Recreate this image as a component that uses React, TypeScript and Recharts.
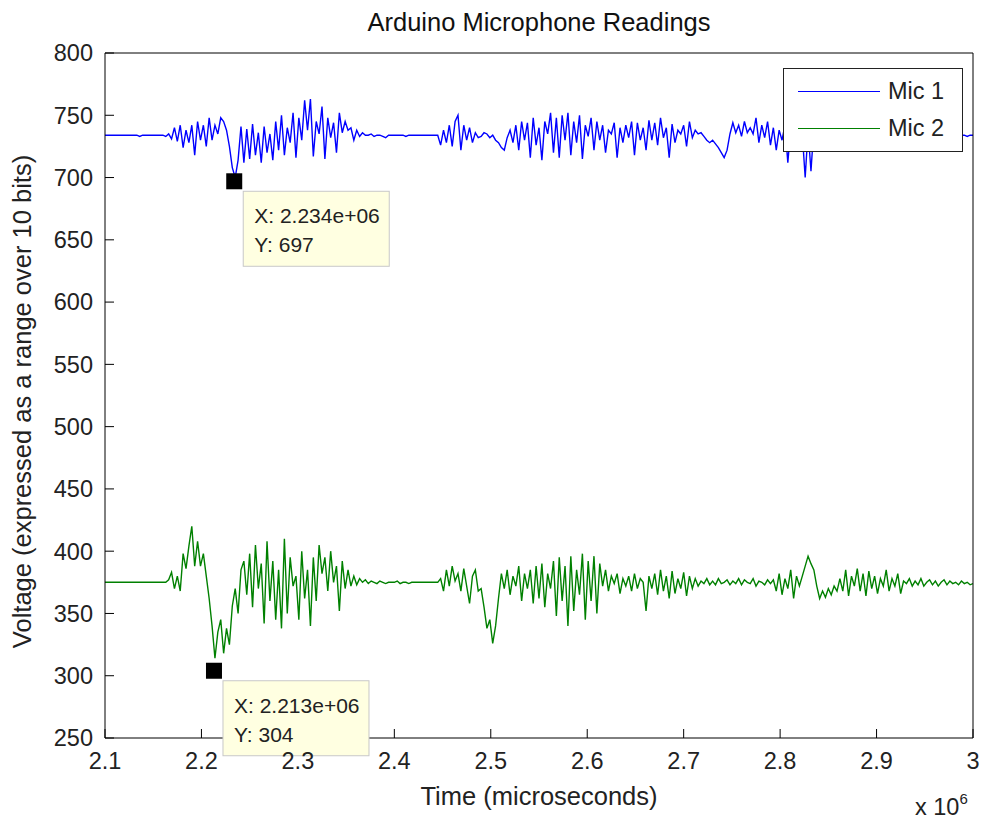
import { LineChart, Line, XAxis, YAxis, Legend, ReferenceDot, Label } from "recharts";

const FONT = '"Liberation Sans", Arial, Helvetica, sans-serif';

// sample times in milliseconds (x 1000 = microseconds)
const sampleTimeMs = [
  2100, 2103, 2106, 2109, 2112, 2115, 2118, 2121, 2124, 2127,
  2130, 2133, 2136, 2139, 2142, 2145, 2148, 2151, 2154, 2157,
  2160, 2163, 2166, 2169, 2172, 2175, 2178, 2181, 2184, 2187,
  2190, 2193, 2196, 2199, 2202, 2205, 2208, 2211, 2214, 2217,
  2220, 2223, 2226, 2229, 2232, 2235, 2238, 2241, 2244, 2247,
  2250, 2253, 2256, 2259, 2262, 2265, 2268, 2271, 2274, 2277,
  2280, 2283, 2286, 2289, 2292, 2295, 2298, 2301, 2304, 2307,
  2310, 2313, 2316, 2319, 2322, 2325, 2328, 2331, 2334, 2337,
  2340, 2343, 2346, 2349, 2352, 2355, 2358, 2361, 2364, 2367,
  2370, 2373, 2376, 2379, 2382, 2385, 2388, 2391, 2394, 2397,
  2400, 2403, 2406, 2409, 2412, 2415, 2418, 2421, 2424, 2427,
  2430, 2433, 2436, 2439, 2442, 2445, 2448, 2451, 2454, 2457,
  2460, 2463, 2466, 2469, 2472, 2475, 2478, 2481, 2484, 2487,
  2490, 2493, 2496, 2499, 2502, 2505, 2508, 2511, 2514, 2517,
  2520, 2523, 2526, 2529, 2532, 2535, 2538, 2541, 2544, 2547,
  2550, 2553, 2556, 2559, 2562, 2565, 2568, 2571, 2574, 2577,
  2580, 2583, 2586, 2589, 2592, 2595, 2598, 2601, 2604, 2607,
  2610, 2613, 2616, 2619, 2622, 2625, 2628, 2631, 2634, 2637,
  2640, 2643, 2646, 2649, 2652, 2655, 2658, 2661, 2664, 2667,
  2670, 2673, 2676, 2679, 2682, 2685, 2688, 2691, 2694, 2697,
  2700, 2703, 2706, 2709, 2712, 2715, 2718, 2721, 2724, 2727,
  2730, 2733, 2736, 2739, 2742, 2745, 2748, 2751, 2754, 2757,
  2760, 2763, 2766, 2769, 2772, 2775, 2778, 2781, 2784, 2787,
  2790, 2793, 2796, 2799, 2802, 2805, 2808, 2811, 2814, 2817,
  2820, 2823, 2826, 2829, 2832, 2835, 2838, 2841, 2844, 2847,
  2850, 2853, 2856, 2859, 2862, 2865, 2868, 2871, 2874, 2877,
  2880, 2883, 2886, 2889, 2892, 2895, 2898, 2901, 2904, 2907,
  2910, 2913, 2916, 2919, 2922, 2925, 2928, 2931, 2934, 2937,
  2940, 2943, 2946, 2949, 2952, 2955, 2958, 2961, 2964, 2967,
  2970, 2973, 2976, 2979, 2982, 2985, 2988, 2991, 2994, 2997,
  3000,
];

const mic1 = [
  734, 734, 734, 734, 734, 734, 734, 734, 734, 734,
  734, 734, 733, 734, 734, 734, 734, 734, 734, 734,
  734, 733, 735, 731, 740, 729, 742, 724, 738, 728,
  742, 718, 745, 730, 742, 725, 748, 730, 742, 735,
  748, 745, 738, 725, 708, 700, 714, 741, 712, 739,
  715, 743, 718, 736, 712, 741, 720, 735, 714, 745,
  722, 750, 718, 740, 728, 752, 716, 748, 730, 762,
  738, 763, 717, 745, 735, 757, 715, 748, 732, 744,
  720, 752, 736, 745, 738, 740, 730, 738, 733, 736,
  734, 734, 735, 733, 734, 734, 733, 732, 734, 734,
  734, 734, 734, 734, 733, 734, 734, 734, 734, 734,
  734, 734, 734, 734, 734, 734, 726, 738, 728, 742,
  725, 745, 750, 722, 742, 730, 740, 728, 736, 732,
  733, 736, 735, 732, 734, 730, 728, 724, 722, 732,
  738, 728, 742, 722, 745, 730, 744, 716, 748, 726,
  740, 714, 745, 735, 752, 720, 748, 716, 750, 730,
  752, 718, 745, 728, 750, 715, 742, 733, 748, 722,
  745, 730, 742, 720, 738, 735, 744, 716, 740, 728,
  742, 732, 745, 718, 744, 730, 740, 722, 746, 730,
  744, 726, 748, 732, 740, 716, 743, 728, 738, 735,
  742, 725, 745, 732, 738, 735, 736, 733, 730, 728,
  730, 727, 724, 720, 716, 722, 735, 744, 736, 742,
  733, 745, 736, 740, 735, 748, 728, 742, 732, 745,
  726, 740, 722, 738, 730, 742, 712, 740, 726, 738,
  730, 735, 700, 738, 705, 740, 728, 742, 732, 738,
  740, 728, 742, 732, 736, 745, 730, 738, 734, 740,
  728, 742, 735, 738, 730, 745, 733, 736, 730, 740,
  734, 738, 732, 742, 730, 736, 734, 738, 732, 736,
  735, 732, 738, 734, 736, 733, 735, 734, 736, 733,
  734, 735, 733, 734, 730, 733, 734, 734, 733, 734,
  734,
];

const mic2 = [
  375, 375, 375, 375, 375, 375, 375, 375, 375, 375,
  375, 375, 375, 375, 375, 375, 375, 375, 375, 375,
  375, 375, 377, 383, 370, 380, 368, 398, 386, 404,
  420, 388, 408, 388, 398, 380, 362, 340, 314, 335,
  345, 318, 338, 325, 356, 370, 350, 385, 392, 365,
  398, 355, 405, 370, 390, 342, 408, 360, 392, 345,
  385, 338, 410, 350, 395, 372, 380, 345, 400, 362,
  385, 340, 395, 360, 405, 382, 395, 368, 400, 375,
  388, 352, 392, 370, 385, 372, 380, 373, 378, 375,
  377, 374, 376, 375, 374, 376, 375, 374, 375, 375,
  375, 376, 374, 375, 375, 374, 375, 375, 375, 375,
  375, 375, 375, 375, 375, 375, 378, 368, 385, 372,
  388, 376, 382, 368, 386, 372, 358, 380, 385, 368,
  370, 355, 338, 345, 326, 340, 362, 382, 370, 385,
  365, 380, 372, 388, 360, 382, 370, 385, 358, 388,
  362, 390, 355, 382, 370, 392, 348, 395, 360, 388,
  340, 396, 352, 385, 365, 398, 345, 392, 360, 396,
  350, 390, 372, 385, 368, 380, 374, 382, 366, 378,
  372, 380, 368, 382, 370, 378, 375, 352, 380, 370,
  382, 365, 385, 368, 380, 362, 384, 366, 378, 370,
  383, 364, 380, 370, 378, 372, 376, 374, 378, 373,
  376, 373, 378, 374, 375, 377, 373, 376, 374, 378,
  373, 377, 375, 374, 378, 372, 376, 375, 373, 377,
  374, 377, 368, 382, 365, 378, 370, 385, 362, 380,
  372, 380, 388, 396, 390, 385, 372, 362, 368, 363,
  370, 365, 372, 368, 378, 368, 385, 364, 380, 372,
  386, 368, 382, 364, 384, 370, 380, 366, 378, 372,
  385, 368, 378, 372, 382, 366, 376, 374, 378, 372,
  376, 373, 378, 372, 375, 377, 373, 376, 372, 375,
  377, 373, 376, 374, 375, 373, 376, 374, 375, 373,
  374,
];

const xTicks = [2100000, 2200000, 2300000, 2400000, 2500000, 2600000, 2700000, 2800000, 2900000, 3000000];
const yTicks = [250, 300, 350, 400, 450, 500, 550, 600, 650, 700, 750, 800];

// data cursor tips: [time (us), value]
const tipMic1 = { t: 2234000, v: 697 };
const tipMic2 = { t: 2213000, v: 304 };

const data = sampleTimeMs.map((ms, i) => ({ t: ms * 1000, mic1: mic1[i], mic2: mic2[i] }));

const tickStyle = { fontSize: 23.5, fill: "#222", fontFamily: FONT };

function DataTip(props: any) {
  const { cx, cy, lines } = props;
  return (
    <g>
      <rect x={cx - 8} y={cy - 8} width={16} height={16} fill="#000" />
      <rect x={cx + 9} y={cy + 10} width={146} height={75} fill="#FFFFE1" stroke="#C8C8C8" />
      <text x={cx + 20} y={cy + 42} fontSize={21} fontFamily={FONT} fill="#222">{lines[0]}</text>
      <text x={cx + 20} y={cy + 71} fontSize={21} fontFamily={FONT} fill="#222">{lines[1]}</text>
    </g>
  );
}

function ExponentLabel(props: any) {
  const vb = props.viewBox;
  return (
    <text x={vb.x + vb.width - 58} y={vb.y + 77} fontSize={23.5} fontFamily={FONT} fill="#222">
      x 10<tspan dy={-11} fontSize={15}>6</tspan>
    </text>
  );
}

function LegendBox(props: any) {
  const items = props.payload || [];
  return (
    <div
      style={{
        width: 180,
        height: 84,
        boxSizing: "border-box",
        border: "1px solid #222",
        background: "#fff",
        position: "relative",
        fontFamily: FONT,
        fontSize: 23.5,
        color: "#222",
      }}
    >
      {items.map((it: any, i: number) => (
        <div
          key={it.value}
          style={{ position: "absolute", left: 14, top: 8 + i * 37, height: 28, display: "flex", alignItems: "center" }}
        >
          <div style={{ width: 82, borderTop: `1.5px solid ${it.color}`, marginRight: 8 }} />
          <span>{it.value}</span>
        </div>
      ))}
    </div>
  );
}

export default function App() {
  return (
    <div style={{ position: "absolute", left: 0, top: 0, width: 981, height: 821, background: "#fff" }}>
      <LineChart width={981} height={821} data={data} margin={{ top: 0, right: 0, bottom: 0, left: 0 }}>
        <XAxis
          dataKey="t"
          type="number"
          domain={[2100000, 3000000]}
          ticks={xTicks}
          tickFormatter={(v: number) => String(v / 1e6)}
          height={83}
          tickSize={-9}
          tickMargin={23}
          tick={tickStyle}
          stroke="#000"
          allowDataOverflow
        >
          <Label value="Time (microseconds)" position="insideBottom" offset={16} fontSize={25.5} fontFamily={FONT} fill="#222" />
          <Label content={<ExponentLabel />} />
        </XAxis>
        <XAxis
          xAxisId="top"
          orientation="top"
          type="number"
          domain={[2100000, 3000000]}
          ticks={xTicks}
          height={53}
          tickSize={-9}
          tick={false}
          stroke="#000"
        >
          <Label value="Arduino Microphone Readings" position="insideTop" offset={13} fontSize={25.5} fontFamily={FONT} fill="#111" />
        </XAxis>
        <YAxis
          type="number"
          domain={[250, 800]}
          ticks={yTicks}
          width={105}
          tickSize={-9}
          tickMargin={21}
          tick={tickStyle}
          stroke="#000"
          allowDataOverflow
        >
          <Label
            value="Voltage (expressed as a range over 10 bits)"
            position="insideLeft"
            angle={-90}
            offset={22}
            dy={6}
            fontSize={25.5}
            fontFamily={FONT}
            fill="#222"
            style={{ textAnchor: "middle" }}
          />
        </YAxis>
        <YAxis
          yAxisId="right"
          orientation="right"
          type="number"
          domain={[250, 800]}
          ticks={yTicks}
          width={8}
          tickSize={-9}
          tick={false}
          stroke="#000"
        />
        <Line type="linear" dataKey="mic1" name="Mic 1" stroke="#0000FF" strokeWidth={1.4} dot={false} isAnimationActive={false} />
        <Line type="linear" dataKey="mic2" name="Mic 2" stroke="#008000" strokeWidth={1.4} dot={false} isAnimationActive={false} />
        <Legend
          layout="vertical"
          align="center"
          verticalAlign="middle"
          content={<LegendBox />}
          wrapperStyle={{ left: 783, top: 68, width: 180, height: 84 }}
        />
        <ReferenceDot
          x={tipMic1.t}
          y={tipMic1.v}
          r={8}
          shape={(p: any) => <DataTip {...p} lines={["X: 2.234e+06", "Y: " + tipMic1.v]} />}
        />
        <ReferenceDot
          x={tipMic2.t}
          y={tipMic2.v}
          r={8}
          shape={(p: any) => <DataTip {...p} lines={["X: 2.213e+06", "Y: " + tipMic2.v]} />}
        />
      </LineChart>
    </div>
  );
}
